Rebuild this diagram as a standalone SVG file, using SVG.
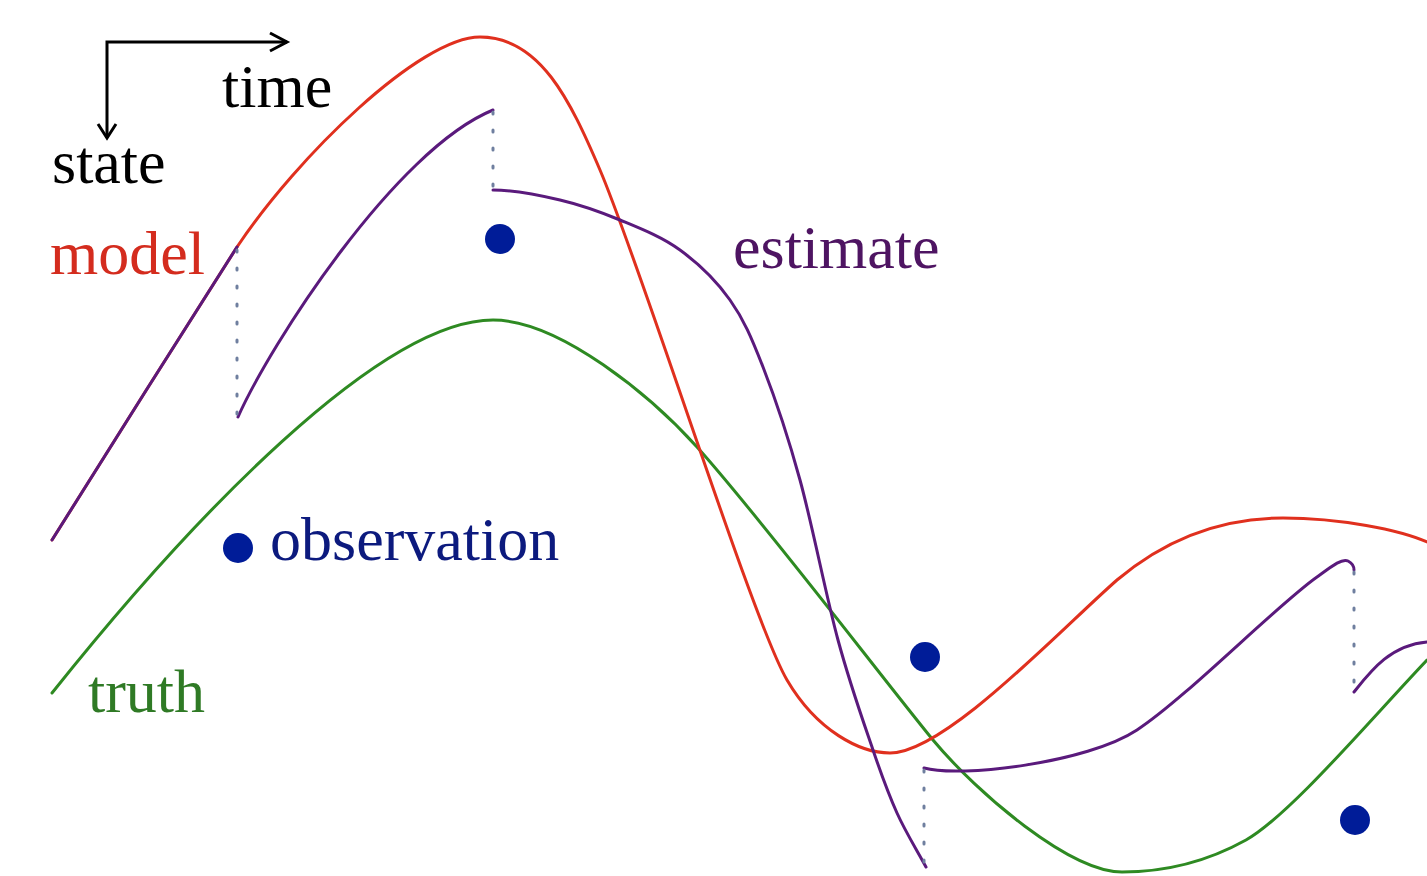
<svg xmlns="http://www.w3.org/2000/svg" width="1427" height="876" viewBox="0 0 1427 876">
<style>
  text { font-family: "Liberation Serif", "Times New Roman", serif; font-size: 62px; }
  .curve { fill: none; stroke-width: 3; stroke-linecap: round; stroke-linejoin: round; }
  .truth { stroke: #2e8a22; }
  .model { stroke: #e0301e; }
  .est { stroke: #5a1a7c; }
  .dots { fill: none; stroke: #6f7f9f; stroke-width: 3; stroke-dasharray: 2 16; stroke-linecap: round; }
  .obs { fill: #001c98; }
  .axis { fill: none; stroke: #000; stroke-width: 3; }
</style>
<rect width="1427" height="876" fill="#fff"/>
<g id="axes">
  <path class="axis" d="M107,138 V42 H287"/>
  <path class="axis" d="M270,33 L287,42 L270,51"/>
  <path class="axis" d="M98,124 L107,138 L116,124"/>
  <text x="222" y="107" fill="#000">time</text>
  <text x="52" y="183" fill="#000">state</text>
</g>
<g id="connectors">
  <path id="truth-curve" class="curve truth" d="M52,693 C190,520 380,320 493,320 C560,320 652,397 697,447 C760,517 880,675 933,740 C978,794 1070,872 1122,872 C1170,872 1210,860 1246,840 C1290,815 1370,720 1427,660"/>
  <path id="model-curve" class="curve model" d="M52,540 C95,472 190,320 237,247 C297,157 420,37 480,37 C540,37 570,100 600,170 C642,268 752,620 787,680 C817,731 860,753 890,753 C945,753 1060,630 1117,580 C1155,548 1210,518 1283,518 C1340,518 1400,530 1427,542"/>
  <path id="estimate-1" class="curve est" d="M52,540 C95,472 190,320 237,247"/>
  <path id="estimate-2" class="curve est" d="M238,417 C270,345 395,150 493,110"/>
  <path id="estimate-3" class="curve est" d="M493,190 C515,190 538.8,195 560,200 C581.2,205 600,211.7 620,220 C640,228.3 661.7,236.7 680,250 C698.3,263.3 716.2,280.5 730,300 C743.8,319.5 751.3,337 763,367 C774.7,397 787.5,434.5 800,480 C812.5,525.5 825.8,595 838,640 C850.2,685 863.2,721.2 873,750 C882.8,778.8 888.2,793.5 897,813 C905.8,832.5 916.3,849 926,867"/>
  <path id="estimate-4" class="curve est" d="M924,768 C960,778 1087,763 1137,730 C1187,697 1277,605 1317,577 C1332,566 1342,558 1348,561 C1352,563 1354,567 1354,570"/>
  <path id="estimate-5" class="curve est" d="M1354,692 C1370,672 1390,645 1427,642"/>
  <path class="dots" d="M237,250 V415"/>
  <path class="dots" d="M493,112 V188"/>
  <path class="dots" d="M924,770 V862"/>
  <path class="dots" d="M1354,572 V690"/>
</g>
<g id="observations">
  <circle class="obs" cx="238" cy="548" r="15"/>
  <circle class="obs" cx="500" cy="239" r="15"/>
  <circle class="obs" cx="925" cy="657" r="15"/>
  <circle class="obs" cx="1355" cy="820" r="15"/>
</g>
<g id="labels">
  <text x="50" y="274" fill="#d42c1e">model</text>
  <text x="733" y="268" fill="#4e1462">estimate</text>
  <text x="270" y="560" fill="#0c1a7e">observation</text>
  <text x="88" y="712" fill="#2f7a25">truth</text>
</g>
</svg>
